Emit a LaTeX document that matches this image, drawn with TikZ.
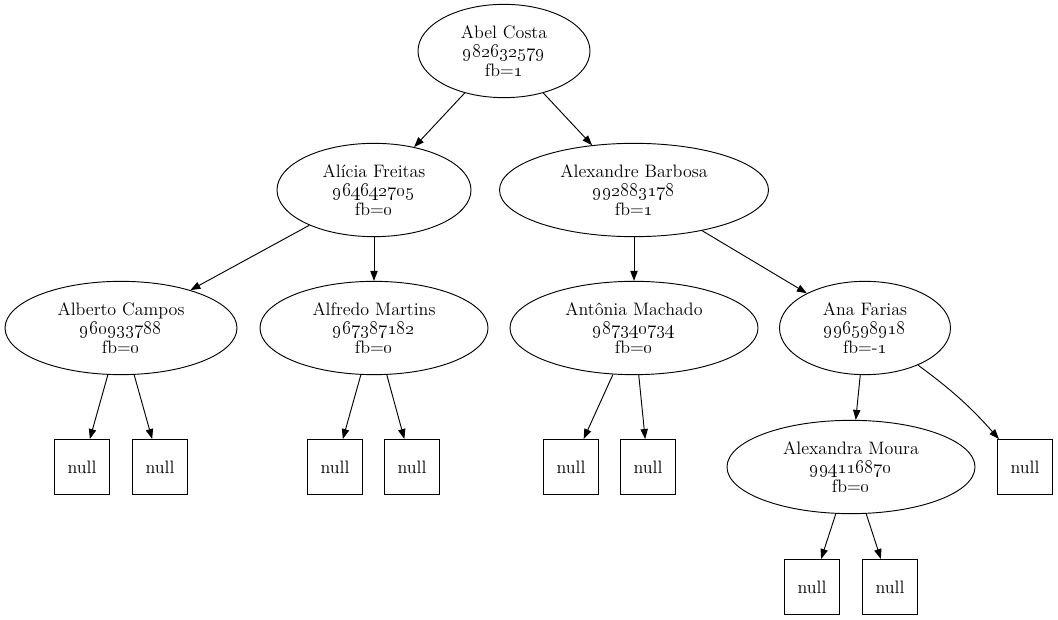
\documentclass[tikz,border=0pt]{standalone}
\usetikzlibrary{shapes.geometric,arrows.meta}

\tikzset{
  pessoa/.style={shape=ellipse,draw,inner sep=0pt,align=center,
    font=\fontsize{13.5}{14.25}\selectfont},
  nulo/.style={shape=rectangle,draw,minimum size=41.25pt,inner sep=0pt,
    font=\fontsize{13.5}{14.25}\selectfont}
}
\newcommand{\tel}[1]{\oldstylenums{#1}}

\begin{document}
\begin{tikzpicture}[x=0.75pt,y=-0.75pt,line width=0.7pt,>={Triangle[length=7.5pt,width=5.5pt]}]
\useasboundingbox (0,0) rectangle (1058,620);
% nos da arvore
\node (abel)      at (504,51)  [pessoa,minimum width=129pt,minimum height=70pt] {Abel Costa\\\tel{982632579}\\fb=\tel{1}};
\node (alicia)    at (374,190) [pessoa,minimum width=145.5pt,minimum height=70pt] {Alícia Freitas\\\tel{964642705}\\fb=\tel{0}};
\node (alexandre) at (634,190) [pessoa,minimum width=201.75pt,minimum height=70pt] {Alexandre Barbosa\\\tel{992883178}\\fb=\tel{1}};
\node (alberto)   at (121,328) [pessoa,minimum width=174pt,minimum height=70pt] {Alberto Campos\\\tel{960933788}\\fb=\tel{0}};
\node (alfredo)   at (374,328) [pessoa,minimum width=171pt,minimum height=70pt] {Alfredo Martins\\\tel{967387182}\\fb=\tel{0}};
\node (antonia)   at (634,328) [pessoa,minimum width=186pt,minimum height=70pt] {Antônia Machado\\\tel{987340734}\\fb=\tel{0}};
\node (ana)       at (865,328) [pessoa,minimum width=128.25pt,minimum height=70pt] {Ana Farias\\\tel{996598918}\\fb=-\tel{1}};
\node (alexandra) at (851,467) [pessoa,minimum width=186pt,minimum height=70pt] {Alexandra Moura\\\tel{994116870}\\fb=\tel{0}};
% folhas nulas
\node (n1) at (82,467)   [nulo] {null};
\node (n2) at (160,467)  [nulo] {null};
\node (n3) at (335,467)  [nulo] {null};
\node (n4) at (412,467)  [nulo] {null};
\node (n5) at (571,467)  [nulo] {null};
\node (n6) at (648,467)  [nulo] {null};
\node (n7) at (1025,467) [nulo] {null};
\node (n8) at (812,587)  [nulo] {null};
\node (n9) at (890,587)  [nulo] {null};
% arestas
\draw [->] (abel) -- (alicia);
\draw [->] (abel) -- (alexandre);
\draw [->] (alicia) -- (alberto);
\draw [->] (alicia) -- (alfredo);
\draw [->] (alexandre) -- (antonia);
\draw [->] (alexandre) -- (ana);
\draw [->] (alberto) -- (n1);
\draw [->] (alberto) -- (n2);
\draw [->] (alfredo) -- (n3);
\draw [->] (alfredo) -- (n4);
\draw [->] (antonia) -- (n5);
\draw [->] (antonia) -- (n6);
\draw [->] (ana) -- (alexandra);
\draw [->] (ana) to[bend left=6] (n7);
\draw [->] (alexandra) -- (n8);
\draw [->] (alexandra) -- (n9);
\end{tikzpicture}
\end{document}
